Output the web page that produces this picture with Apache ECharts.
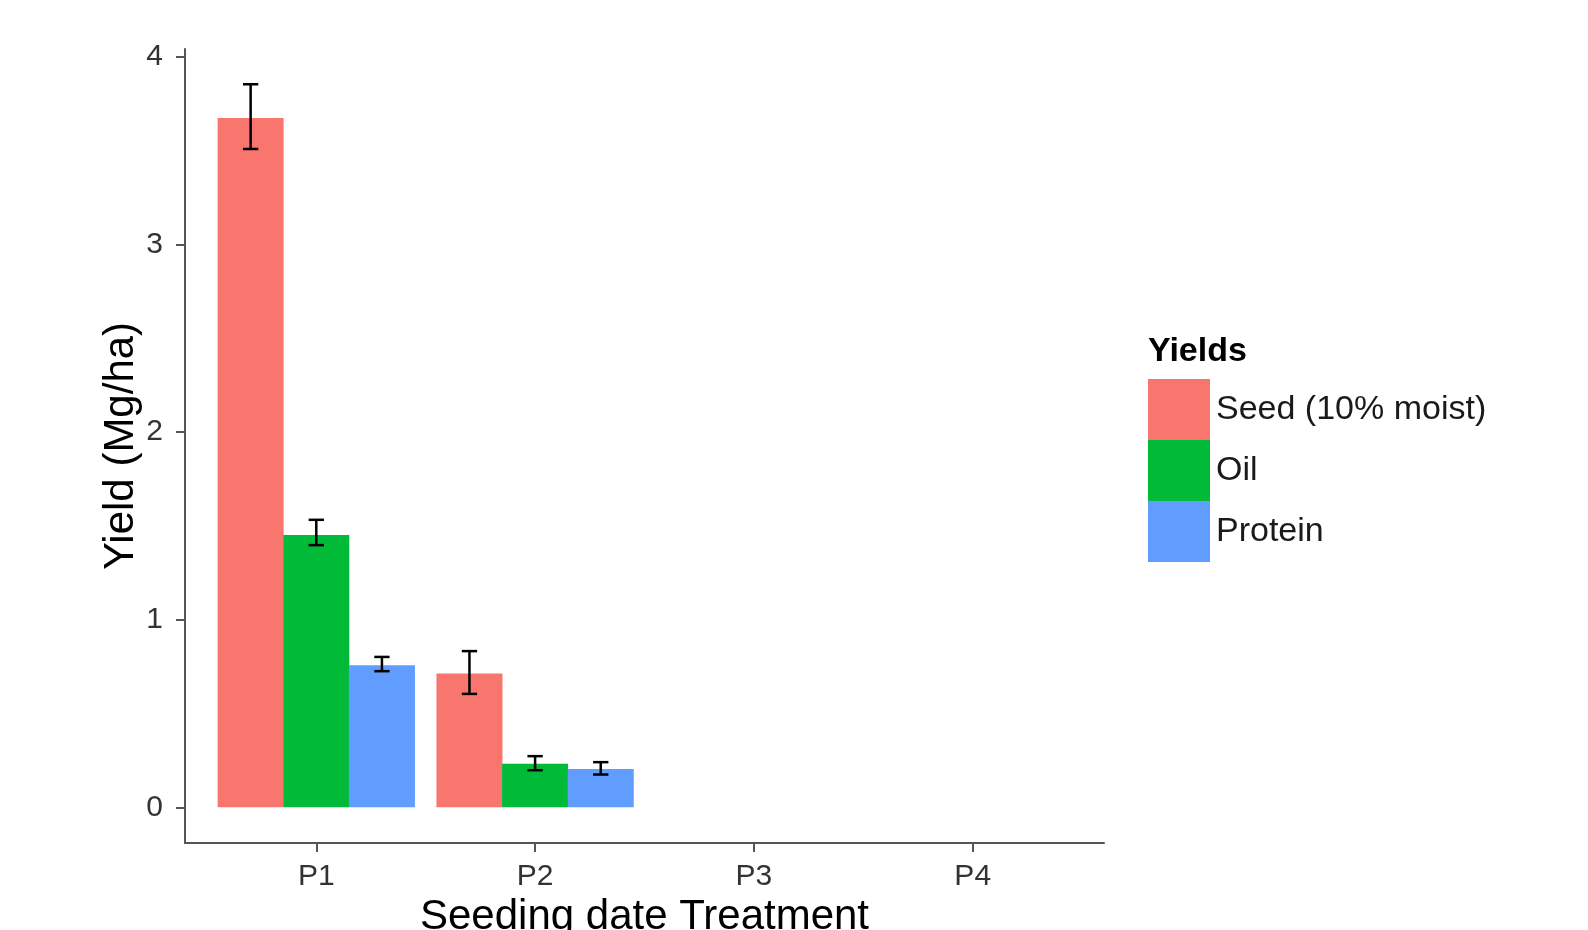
<!DOCTYPE html>
<html>
<head>
<meta charset="utf-8">
<script src="https://cdn.jsdelivr.net/npm/echarts@6/dist/echarts.min.js"></script>
<style>
  html, body { margin: 0; padding: 0; background: #fff; }
  #chart { width: 1588px; height: 930px; }
</style>
</head>
<body>
<div id="chart"></div>
<script>
// seeding date treatments and yield groups
var categories = ['P1', 'P2', 'P3', 'P4'];
var groupNames = ['Seed (10% moist)', 'Oil', 'Protein'];
var groupColors = ['#F8766D', '#00BA38', '#619CFF'];

// mean yields (Mg/ha), P3 and P4 have no data
var seedMean = [3.675, 0.714, null, null];
var oilMean = [1.452, 0.232, null, null];
var proteinMean = [0.758, 0.204, null, null];

// error bar limits
var seedLow = [3.51, 0.605, null, null];
var seedHigh = [3.855, 0.833, null, null];
var oilLow = [1.398, 0.198, null, null];
var oilHigh = [1.533, 0.273, null, null];
var proteinLow = [0.726, 0.175, null, null];
var proteinHigh = [0.802, 0.241, null, null];

var yTicks = [0, 1, 2, 3, 4];

var means = [seedMean, oilMean, proteinMean];
var lows = [seedLow, oilLow, proteinLow];
var highs = [seedHigh, oilHigh, proteinHigh];
var dodge = [-0.3, 0, 0.3];
var font = '"Liberation Sans", Arial, sans-serif';

var xTicks = categories.map(function (c, i) { return i + 1; });

var series = [];
groupNames.forEach(function (name, g) {
  var barData = [];
  var errData = [];
  categories.forEach(function (c, i) {
    if (means[g][i] == null) return;
    var x = i + 1 + dodge[g];
    barData.push([x, means[g][i]]);
    errData.push([x, lows[g][i], highs[g][i]]);
  });
  series.push({
    name: name,
    type: 'bar',
    barWidth: 66,
    barGap: '-100%',
    itemStyle: { color: groupColors[g] },
    data: barData
  });
  series.push({
    name: name + ' err',
    type: 'custom',
    z: 10,
    renderItem: function (params, api) {
      var x = api.value(0);
      var lo = api.coord([x, api.value(1)]);
      var hi = api.coord([x, api.value(2)]);
      var l = api.coord([x - 0.035, api.value(1)])[0];
      var r = api.coord([x + 0.035, api.value(1)])[0];
      var st = { stroke: '#000', lineWidth: 2.5 };
      return {
        type: 'group',
        children: [
          { type: 'line', shape: { x1: lo[0], y1: lo[1], x2: hi[0], y2: hi[1] }, style: st },
          { type: 'line', shape: { x1: l, y1: lo[1], x2: r, y2: lo[1] }, style: st },
          { type: 'line', shape: { x1: l, y1: hi[1], x2: r, y2: hi[1] }, style: st }
        ]
      };
    },
    data: errData
  });
});

var chart = echarts.init(document.getElementById('chart'));
var option = {
  backgroundColor: '#fff',
  animation: false,
  textStyle: { fontFamily: font },
  title: {
    text: 'Yields',
    left: 1143,
    top: 330,
    textStyle: { fontFamily: font, fontSize: 34, fontWeight: 'bold', color: '#000' }
  },
  legend: {
    data: groupNames,
    orient: 'vertical',
    left: 1143,
    top: 374,
    icon: 'rect',
    itemWidth: 62,
    itemHeight: 61,
    itemGap: 0,
    selectedMode: false,
    textStyle: { fontFamily: font, fontSize: 34, color: '#1a1a1a', padding: [0, 0, 0, 1] }
  },
  grid: { left: 185, right: 484, top: 49, bottom: 87, containLabel: false, outerBoundsMode: 'none' },
  xAxis: {
    type: 'value',
    min: 0.4,
    max: 4.6,
    name: 'Seeding date Treatment',
    nameLocation: 'middle',
    nameGap: 52,
    nameTextStyle: { fontFamily: font, fontSize: 42, color: '#000' },
    axisLine: { show: true, onZero: false, lineStyle: { color: '#555', width: 2 } },
    axisTick: { show: true, length: 9, customValues: xTicks, lineStyle: { color: '#555', width: 2 } },
    axisLabel: {
      customValues: xTicks,
      margin: 19,
      fontSize: 30,
      color: '#333',
      formatter: function (v) { return categories[Math.round(v) - 1]; }
    },
    splitLine: { show: false }
  },
  yAxis: {
    type: 'value',
    min: -0.19,
    max: 4.043,
    name: 'Yield (Mg/ha)',
    nameLocation: 'middle',
    nameGap: 43,
    nameMoveOverlap: false,
    nameTextStyle: { fontFamily: font, fontSize: 42, color: '#000' },
    axisLine: { show: true, onZero: false, lineStyle: { color: '#555', width: 2 } },
    axisTick: { show: true, length: 9, customValues: yTicks, lineStyle: { color: '#555', width: 2 } },
    axisLabel: { customValues: yTicks, margin: 22, fontSize: 30, color: '#333' },
    splitLine: { show: false }
  },
  series: series
};
chart.setOption(option);
</script>
</body>
</html>
